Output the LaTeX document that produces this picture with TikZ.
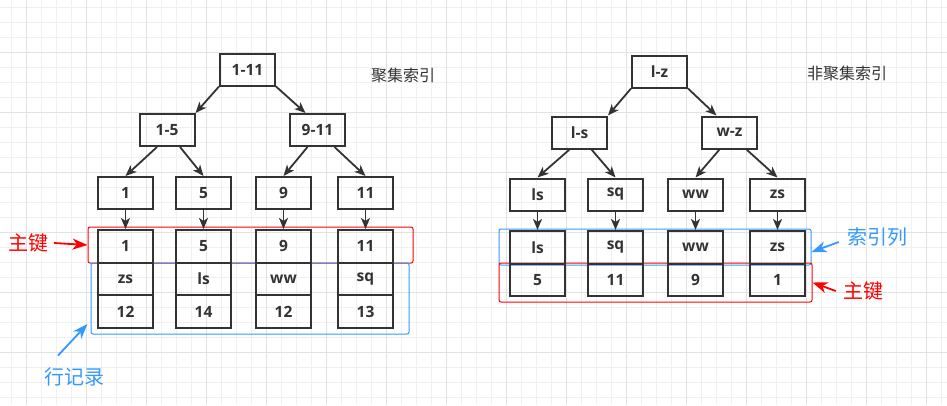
\documentclass[tikz,border=0pt]{standalone}
\usepackage{fontspec}
\setmainfont{Open Sans}
\newfontfamily\cjk{Noto Sans CJK SC}
\usetikzlibrary{positioning,arrows.meta}
\definecolor{ink}{HTML}{333333}
\definecolor{gridminor}{HTML}{F0F0F0}
\definecolor{gridmajor}{HTML}{E2E2E2}
\definecolor{keyred}{HTML}{FF0000}
\definecolor{rowblue}{HTML}{3399FF}
\tikzstyle{keybox} = [draw=ink, line width=2pt, minimum width=55pt, minimum height=32pt, inner sep=0pt, text=ink, font=\fontsize{15.5}{17}\selectfont\bfseries]
\tikzstyle{cell} = [keybox, minimum height=32.7pt]
\tikzstyle{connector} = [draw=ink, line width=1.8pt, -{Stealth[length=11pt,width=9pt,inset=3pt]}]
\tikzstyle{callout} = [line width=1.8pt, -{Stealth[length=15pt,width=11pt,inset=4.5pt]}]
\tikzstyle{frame} = [draw, line width=1pt, rounded corners=2pt, inner sep=0pt]
\tikzstyle{cjklabel} = [inner sep=1pt, font=\cjk\fontsize{20}{24}\selectfont]
\tikzstyle{title} = [inner sep=1pt, text=ink, font=\cjk\fontsize{16}{19}\selectfont]

\begin{document}
\begin{tikzpicture}[x=1pt, y=-1pt, node distance=32.7pt]
                \useasboundingbox (0,0) rectangle (947,405);
                \fill [white] (0,0) rectangle (947,405);
                % grid
                \foreach \i in {0,...,62} \draw [gridminor, line width=1pt] ({11.7+15*\i},0) -- ++(0,405);
                \foreach \i in {0,...,26} \draw [gridminor, line width=1pt] (0,{7.3+15*\i}) -- ++(947,0);
                \foreach \i in {0,...,15} \draw [gridmajor, line width=1pt] ({26.7+60*\i},0) -- ++(0,405);
                \foreach \i in {0,...,5} \draw [gridmajor, line width=1pt] (0,{52.3+60*\i}) -- ++(947,0);

                % frames
                \node (pkframe) [frame, draw=keyred, minimum width=325pt, minimum height=36pt] at (250.5,245) {};
                \node (rowframe) [frame, draw=rowblue, minimum width=318pt, minimum height=71pt] at (250,298.5) {};
                \node (idxframe) [frame, draw=rowblue, minimum width=312pt, minimum height=36pt] at (655,247) {};
                \node (pkframe2) [frame, draw=keyred, minimum width=313pt, minimum height=39pt] at (655.5,282.5) {};

                % clustered index
                \node (r111) [keybox] at (247.5,69.5) {1-11};
                \node (r15) [keybox] at (167,130) {1-5};
                \node (r911) [keybox] at (317.5,130) {9-11};
                \node (k1) [keybox] at (125.5,193) {1};
                \node (k5) [keybox] at (203.5,193) {5};
                \node (k9) [keybox] at (283.5,193) {9};
                \node (k11) [keybox] at (365.5,193) {11};
                \node (l1a) [cell] at (125.5,246.3) {1};
                \node (l1b) [cell, below of=l1a] {zs};
                \node (l1c) [cell, below of=l1b] {12};
                \node (l2a) [cell] at (203.5,246.3) {5};
                \node (l2b) [cell, below of=l2a] {ls};
                \node (l2c) [cell, below of=l2b] {14};
                \node (l3a) [cell] at (283.5,246.3) {9};
                \node (l3b) [cell, below of=l3a] {ww};
                \node (l3c) [cell, below of=l3b] {12};
                \node (l4a) [cell] at (365.5,246.3) {11};
                \node (l4b) [cell, below of=l4a] {sq};
                \node (l4c) [cell, below of=l4b] {13};
                \node (t1) [title] at (403,75) {聚集索引};

                \draw [connector] (r111.south west) -- (r15.north east);
                \draw [connector] (r111.south east) -- ([xshift=-12pt]r911.north);
                \draw [connector] ([xshift=-10pt]r15.south) -- (k1.north);
                \draw [connector] ([xshift=13pt]r15.south) -- (k5.north);
                \draw [connector] ([xshift=-10pt]r911.south) -- (k9.north);
                \draw [connector] ([xshift=17pt]r911.south) -- (k11.north);
                \foreach \a/\b in {k1/l1a, k5/l2a, k9/l3a, k11/l4a}
                    \draw [connector] (\a) -- (\b);

                % secondary index
                \node (rlz) [keybox] at (659.5,71.5) {l-z};
                \node (rls) [keybox] at (579.5,132.5) {l-s};
                \node (rwz) [keybox] at (729.5,132.5) {w-z};
                \node (kls) [keybox] at (537.5,194.5) {ls};
                \node (ksq) [keybox] at (615.5,194.5) {sq};
                \node (kww) [keybox] at (695.5,194.5) {ww};
                \node (kzs) [keybox] at (777.5,194.5) {zs};
                \node (m1a) [cell] at (537.5,247.3) {ls};
                \node (m1b) [cell, below of=m1a] {5};
                \node (m2a) [cell] at (615.5,247.3) {sq};
                \node (m2b) [cell, below of=m2a] {11};
                \node (m3a) [cell] at (695.5,247.3) {ww};
                \node (m3b) [cell, below of=m3a] {9};
                \node (m4a) [cell] at (777.5,247.3) {zs};
                \node (m4b) [cell, below of=m4a] {1};
                \node (t2) [title] at (847,73) {非聚集索引};

                \draw [connector] (rlz.south west) -- (rls.north east);
                \draw [connector] (rlz.south east) -- ([xshift=-13pt]rwz.north);
                \draw [connector] ([xshift=-10pt]rls.south) -- (kls.north);
                \draw [connector] ([xshift=12pt]rls.south) -- (ksq.north);
                \draw [connector] ([xshift=-10pt]rwz.south) -- (kww.north);
                \draw [connector] ([xshift=17pt]rwz.south) -- (kzs.north);
                \foreach \a/\b in {kls/m1a, ksq/m2a, kww/m3a, kzs/m4a}
                    \draw [connector] (\a) -- (\b);

                % labels
                \node (pkl) [cjklabel, text=keyred] at (29,243) {主键};
                \node (rowl) [cjklabel, text=rowblue] at (74,377) {行记录};
                \node (idxl) [cjklabel, text=rowblue] at (877,237) {索引列};
                \node (pkl2) [cjklabel, text=keyred] at (863,291) {主键};

                \draw [callout, keyred] ([xshift=4pt]pkl.east) -- (pkframe.west);
                \draw [callout, rowblue] ([xshift=-16pt,yshift=11pt]rowl.north) -- ([xshift=-3pt,yshift=-25.5pt]rowframe.west);
                \draw [callout, rowblue] ([xshift=-7pt,yshift=-5pt]idxl.west) -- ([yshift=-5pt]idxframe.east);
                \draw [callout, keyred] ([xshift=-6pt]pkl2.west) -- (pkframe2.east);
            \end{tikzpicture}
\end{document}
